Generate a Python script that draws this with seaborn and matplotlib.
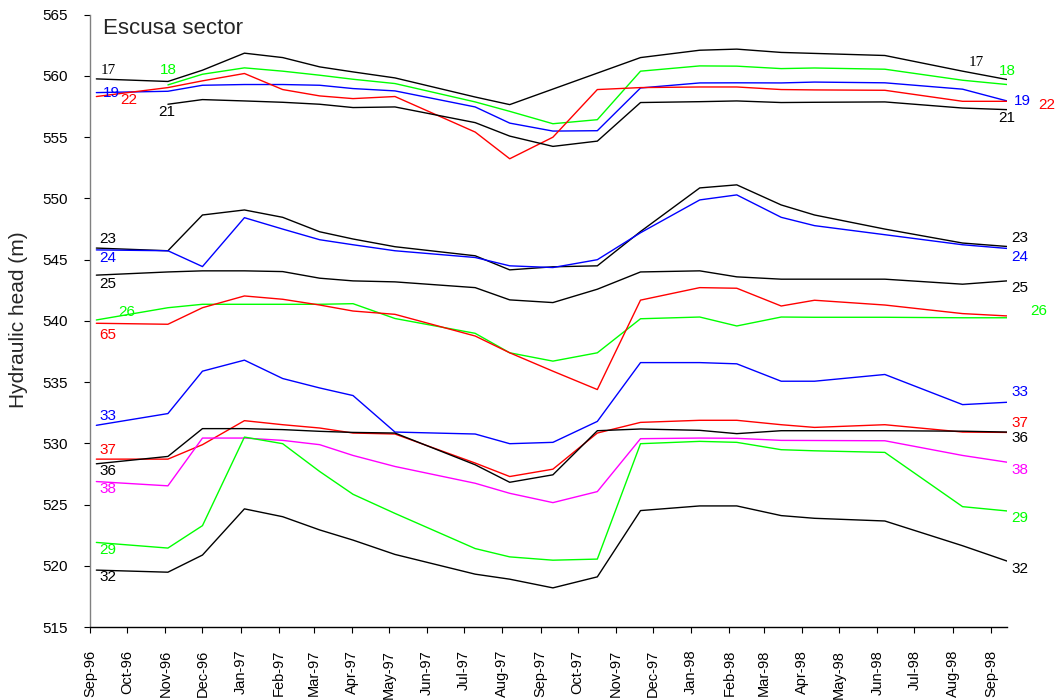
import numpy as np
import pandas as pd
import matplotlib
matplotlib.use("Agg")
import matplotlib.pyplot as plt
import matplotlib.dates as mdates
import seaborn as sns

# Survey dates (piezometer readings)
dates = pd.to_datetime([
    "1996-09-06", "1996-11-03", "1996-12-01", "1997-01-04", "1997-02-04",
    "1997-03-06", "1997-04-02", "1997-05-06", "1997-07-10", "1997-08-07",
    "1997-09-11", "1997-10-17", "1997-11-21", "1998-01-08", "1998-02-07",
    "1998-03-15", "1998-04-11", "1998-06-07", "1998-08-09", "1998-09-14",
])
nan = np.nan

# Hydraulic head (m) per well
w17 = [559.76, 559.55, 560.47, 561.86, 561.50, 560.74, 560.33, 559.84, 558.28, 557.66,
       nan, nan, 561.50, 562.10, 562.19, 561.92, 561.84, 561.67, 560.39, 559.71]
w18 = [nan, 559.27, 560.14, 560.66, 560.39, 560.06, 559.73, 559.38, 557.88, 557.11,
       556.10, 556.43, 560.39, 560.82, 560.80, 560.60, 560.65, 560.55, 559.65, 559.30]
w19 = [558.64, 558.75, 559.24, 559.30, 559.30, 559.24, 558.97, 558.78, 557.47, 556.15,
       555.50, 555.53, 559.02, 559.43, 559.44, 559.43, 559.50, 559.44, 558.92, 557.96]
w22 = [558.32, 559.05, 559.60, 560.20, 558.89, 558.37, 558.15, 558.32, 555.42, 553.24,
       555.00, 558.89, 559.05, 559.10, 559.10, 558.89, 558.86, 558.83, 557.93, 557.93]
w21 = [nan, 557.69, 558.07, 557.96, 557.85, 557.69, 557.42, 557.47, 556.19, 555.09,
       554.25, 554.68, 557.83, 557.90, 557.96, 557.83, 557.85, 557.88, 557.38, 557.25]
w23 = [545.95, 545.73, 548.65, 549.06, 548.46, 547.28, 546.69, 546.06, 545.32, 544.17,
       544.42, 544.50, 547.30, 550.86, 551.11, 549.47, 548.65, 547.50, 546.36, 546.08]
w24 = [545.80, 545.73, 544.44, 548.43, 547.50, 546.63, 546.22, 545.73, 545.18, 544.50,
       544.36, 545.00, 547.20, 549.88, 550.29, 548.46, 547.78, 547.04, 546.22, 545.92]
w25 = [543.74, 544.00, 544.09, 544.09, 544.03, 543.49, 543.27, 543.19, 542.72, 541.72,
       541.50, 542.59, 544.00, 544.09, 543.60, 543.41, 543.41, 543.41, 543.00, 543.27]
w26 = [540.08, 541.08, 541.36, 541.36, 541.36, 541.36, 541.41, 540.20, 538.99, 537.40,
       536.72, 537.40, 540.18, 540.32, 539.59, 540.32, 540.30, 540.30, 540.26, 540.26]
w65 = [539.81, 539.73, 541.08, 542.04, 541.77, 541.30, 540.81, 540.54, 538.77, 537.40,
       535.90, 534.40, 541.70, 542.72, 542.67, 541.22, 541.69, 541.30, 540.60, 540.41]
w33 = [531.48, 532.44, 535.90, 536.80, 535.30, 534.53, 533.91, 530.93, 530.77, 529.98,
       530.09, 531.80, 536.60, 536.60, 536.50, 535.08, 535.08, 535.63, 533.17, 533.36]
w37 = [528.72, 528.72, 529.90, 531.86, 531.53, 531.26, 530.85, 530.77, 528.40, 527.30,
       527.90, 530.85, 531.72, 531.89, 531.89, 531.53, 531.31, 531.53, 530.93, 530.90]
w36 = [528.34, 528.94, 531.21, 531.21, 531.13, 530.99, 530.90, 530.85, 528.26, 526.83,
       527.44, 531.04, 531.18, 531.07, 530.80, 531.04, 531.04, 531.04, 531.00, 530.93]
w38 = [526.89, 526.54, 530.44, 530.44, 530.25, 529.90, 529.02, 528.12, 526.75, 525.93,
       525.17, 526.07, 530.39, 530.44, 530.42, 530.25, 530.24, 530.22, 529.02, 528.47]
w29 = [521.92, 521.46, 523.29, 530.52, 529.98, 527.71, 525.85, 524.29, 521.42, 520.74,
       520.47, 520.56, 529.98, 530.17, 530.09, 529.49, 529.40, 529.27, 524.84, 524.49]
w32 = [519.66, 519.49, 520.89, 524.66, 524.02, 522.94, 522.11, 520.94, 519.33, 518.92,
       518.21, 519.11, 524.52, 524.90, 524.90, 524.11, 523.89, 523.67, 521.65, 520.40]

wells = {"17": w17, "18": w18, "19": w19, "22": w22, "21": w21, "23": w23,
         "24": w24, "25": w25, "26": w26, "65": w65, "33": w33, "37": w37,
         "36": w36, "38": w38, "29": w29, "32": w32}

BLACK, GREEN, BLUE, RED, MAGENTA = "#000000", "#00FF00", "#0000FF", "#FF0000", "#FF00FF"
colors = {"17": BLACK, "18": GREEN, "19": BLUE, "22": RED, "21": BLACK, "23": BLACK,
          "24": BLUE, "25": BLACK, "26": GREEN, "65": RED, "33": BLUE, "37": RED,
          "36": BLACK, "38": MAGENTA, "29": GREEN, "32": BLACK}

# Well tags at both ends of the curves (axes fractions)
left_tags = [("17", 0.0197, 0.9081), ("18", 0.0852, 0.9089), ("19", 0.0235, 0.8722),
             ("22", 0.0423, 0.8607), ("21", 0.0838, 0.8411), ("23", 0.0197, 0.6343),
             ("24", 0.0197, 0.6028), ("25", 0.0197, 0.5608), ("26", 0.0401, 0.5151),
             ("65", 0.0197, 0.4771), ("33", 0.0197, 0.3451), ("37", 0.0197, 0.2896),
             ("36", 0.0197, 0.2553), ("38", 0.0197, 0.2256), ("29", 0.0197, 0.1264),
             ("32", 0.0197, 0.0823)]
right_tags = [("17", 0.9665, 0.9215), ("18", 1.0002, 0.9084), ("19", 1.0164, 0.8583),
              ("22", 1.0437, 0.8526), ("21", 0.9997, 0.8317), ("23", 1.0142, 0.6358),
              ("24", 1.0142, 0.6044), ("25", 1.0142, 0.5533), ("26", 1.0342, 0.5162),
              ("33", 1.0142, 0.3832), ("37", 1.0142, 0.3326), ("36", 1.0142, 0.3081),
              ("38", 1.0142, 0.2570), ("29", 1.0142, 0.1791), ("32", 1.0142, 0.0958)]

rows = []
for name, vals in wells.items():
    for d, v in zip(dates, vals):
        rows.append({"date": d, "well": name, "head": v})
df = pd.DataFrame(rows).dropna()

sns.set_style("ticks")
plt.rcParams["font.family"] = ["Liberation Sans", "DejaVu Sans"]

fig = plt.figure(figsize=(10.56, 7.0), dpi=100)
ax = fig.add_axes([0.0854, 0.104, 0.8682, 0.875])

sns.lineplot(data=df, x="date", y="head", hue="well", palette=colors,
             hue_order=list(wells.keys()), legend=False, linewidth=1.0,
             estimator=None, sort=True, ax=ax)

ax.set_xlim(pd.Timestamp("1996-09-01"), pd.Timestamp("1998-09-14"))
ax.set_ylim(515, 565)
ax.set_yticks(np.arange(515, 566, 5))
ax.xaxis.set_major_locator(mdates.MonthLocator())
ax.xaxis.set_major_formatter(mdates.DateFormatter("%b-%y"))

for side in ("top", "right"):
    ax.spines[side].set_visible(False)
ax.spines["left"].set_color("#808080")
ax.spines["bottom"].set_color("#000000")
ax.spines["left"].set_linewidth(1.0)
ax.spines["bottom"].set_linewidth(1.0)

ax.tick_params(axis="y", direction="out", length=4.3, width=0.8, color="#000000",
               labelsize=11, pad=12, labelcolor="#000000")
ax.tick_params(axis="x", direction="out", length=4.3, width=0.8, color="#000000",
               labelsize=10.5, pad=12, labelrotation=90, labelcolor="#000000")

ax.set_xlabel("")
ax.set_ylabel("Hydraulic head (m)", fontsize=15)
ax.yaxis.set_label_coords(-0.0675, 0.5016)

ax.text(0.014, 0.9685, "Escusa sector", transform=ax.transAxes, fontsize=16,
        ha="left", va="baseline")

for tags in (left_tags, right_tags):
    for name, fx, fy in tags:
        family = ["Liberation Serif"] if name == "17" else ["Liberation Sans"]
        ax.text(fx, fy, name, transform=ax.transAxes, ha="center", va="center",
                fontsize=11, color=colors[name], family=family)

fig.savefig("out.png", dpi=100)
